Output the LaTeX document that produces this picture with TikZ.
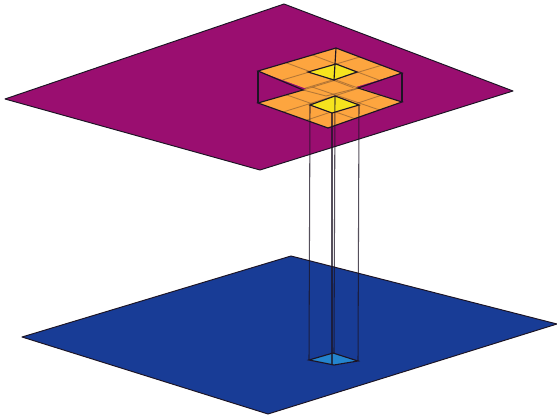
\documentclass[tikz,border=0pt]{standalone}
\usetikzlibrary{calc}
\definecolor{plate}{HTML}{9A0E70}
\definecolor{ground}{HTML}{183C96}
\definecolor{cell}{HTML}{FDA53F}
\definecolor{hole}{HTML}{F5E31E}
\definecolor{foot}{HTML}{2484CE}
\definecolor{ink}{HTML}{1C1424}
\tikzset{
  sheet/.style={draw=ink, line width=0.55pt, line join=round},
  edge/.style={draw=ink, line width=0.65pt},
  gridline/.style={draw=ink!70!cell, line width=0.5pt, opacity=0.45},
  pillar/.style={draw=ink, line width=0.6pt, opacity=0.75}
}
\begin{document}
\begin{tikzpicture}[x=0.02cm, y=-0.02cm]
  \useasboundingbox (0,0) rectangle (557,418);

  % planes
  \draw[sheet, fill=ground] (291,256) -- (557,324) -- (268,414) -- (22,337) -- cycle;
  \draw[sheet, fill=plate] (284,4) -- (513,91) -- (260,170) -- (5,99) -- cycle;

  % corners of both grids
  \coordinate (uT) at (336,48);
  \coordinate (uR) at (402,73);
  \coordinate (uB) at (326,96);
  \coordinate (uL) at (258,71);
  \coordinate (lT) at (336,80);
  \coordinate (lR) at (402,102);
  \coordinate (lB) at (328,128);
  \coordinate (lL) at (258,103);
  \coordinate (crossL) at (303,90);
  \coordinate (crossR) at (358,88);

  \fill[cell] (lT) -- (lR) -- (lB) -- (lL) -- cycle;
  \fill[cell] (uT) -- (uR) -- (uB) -- (uL) -- cycle;

  \foreach \u in {0.36,0.69} {
    \draw[gridline] ($(uT)!\u!(uR)$) -- ($(uL)!\u!(uB)$);
    \draw[gridline] ($(lT)!\u!(lR)$) -- ($(lL)!\u!(lB)$);
  }
  \foreach \v in {0.305,0.64} {
    \draw[gridline] ($(uT)!\v!(uL)$) -- ($(uR)!\v!(uB)$);
    \draw[gridline] ($(lT)!\v!(lL)$) -- ($(lR)!\v!(lB)$);
  }
  \draw[gridline] (crossL) -- (uB) -- (crossR);
  \draw[gridline] (crossL) -- (lT) -- (crossR);

  % holes
  \draw[edge, fill=hole] (336,64) -- (357,72) -- (334,80) -- (308,72) -- cycle;
  \draw[edge, fill=hole] (335,96) -- (359,105) -- (332,113) -- (310,105) -- cycle;
  \draw[edge, fill=foot] (333,353) -- (358,361) -- (334,365) -- (309,360) -- cycle;

  % outline of the two grids
  \draw[edge] (uL) -- (uT) -- (uR) -- (crossR) -- (lR) -- (lB) -- (lL) -- (crossL) -- cycle;
  \draw[edge] (uL) -- (lL);
  \draw[edge] (uR) -- (lR);
  \draw[edge] (uT) -- (334,80);

  % pillar
  \draw[pillar] (310,105) -- (309,360);
  \draw[pillar] (359,105) -- (358,361);
  \draw[pillar] (335,96) -- (334,353);
  \draw[pillar] (332,113) -- (332,365);
\end{tikzpicture}
\end{document}
